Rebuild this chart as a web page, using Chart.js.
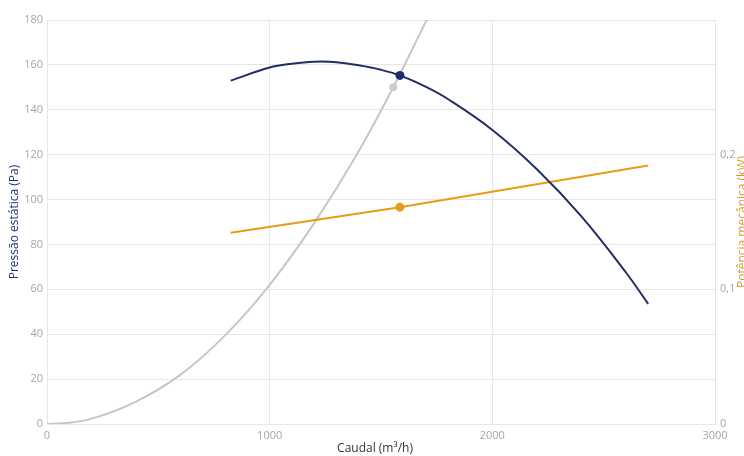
<!DOCTYPE html>
<html>
<head>
<meta charset="utf-8">
<script src="https://cdn.jsdelivr.net/npm/chart.js@4/dist/chart.umd.min.js"></script>
<style>
  html, body { margin: 0; padding: 0; background: #fff; }
  #wrap { width: 744px; height: 456px; }
</style>
</head>
<body>
<div id="wrap"><canvas id="c" width="744" height="456"></canvas></div>
<script>
// Fan curve (static pressure, Pa) against airflow (m³/h)
const fanFlow = [825, 1000, 1100, 1200, 1300, 1400, 1500, 1585, 1700, 1800, 2000, 2200, 2400, 2600, 2700];
const fanPressure = [153, 158.8, 160.5, 161.4, 161.2, 159.8, 157.8, 155.3, 150.3, 144.8, 131, 113.5, 92.5, 67.5, 53.5];

// System resistance curve (Pa)
const systemFlow = [0, 100, 200, 400, 600, 800, 1000, 1200, 1400, 1555, 1720];
const systemPressure = [0, 0.6, 2.4, 10, 22, 39.5, 62, 89.5, 121.5, 150, 183];

// Shaft power (kW)
const powerFlow = [825, 1585, 2700];
const powerKw = [0.142, 0.161, 0.192];

// Operating points
const opFan = { flow: 1585, value: 155.3 };
const opSystem = { flow: 1555, value: 150 };
const opPower = { flow: 1585, value: 0.161 };

// Axis ticks
const flowTicks = [0, 1000, 2000, 3000];
const pressureTicks = [0, 20, 40, 60, 80, 100, 120, 140, 160, 180];
const powerTicks = [0, 0.1, 0.2, 0.3];

// Axis titles
const titleX = 'Caudal (m³/h)';
const titleLeft = 'Pressão estática (Pa)';
const titleRight = 'Potência mecânica (kW)';

const NAVY = '#232d63';
const NAVY_DOT = '#1c2a70';
const GREY = '#c6c6c6';
const ORANGE = '#e79b16';
const GRID = '#e6e6e6';
const TICK = '#a6a6a6';
const FONT = '"Open Sans", "Liberation Sans", sans-serif';

const toXY = (xs, ys) => xs.map((x, i) => ({ x: x, y: ys[i] }));

const axisTitles = {
  id: 'axisTitles',
  afterDraw(chart) {
    const ctx = chart.ctx;
    const area = chart.chartArea;
    const midY = (area.top + area.bottom) / 2;
    ctx.save();
    ctx.font = '12px ' + FONT;
    ctx.textAlign = 'center';
    ctx.textBaseline = 'middle';

    ctx.fillStyle = '#333333';
    ctx.fillText(titleX, 375, 449);

    ctx.save();
    ctx.translate(15, midY);
    ctx.rotate(-Math.PI / 2);
    ctx.fillStyle = '#26337a';
    ctx.fillText(titleLeft, 0, 0);
    ctx.restore();

    ctx.save();
    ctx.translate(743, midY);
    ctx.rotate(-Math.PI / 2);
    ctx.fillStyle = '#d9a030';
    ctx.fillText(titleRight, 0, 0);
    ctx.restore();

    ctx.restore();
  }
};

new Chart(document.getElementById('c'), {
  type: 'scatter',
  data: {
    datasets: [
      {
        label: 'Sistema',
        data: toXY(systemFlow, systemPressure),
        showLine: true,
        borderColor: GREY,
        borderWidth: 2,
        pointRadius: 0,
        cubicInterpolationMode: 'monotone',
        yAxisID: 'y',
        order: 3
      },
      {
        label: 'Potência',
        data: toXY(powerFlow, powerKw),
        showLine: true,
        borderColor: ORANGE,
        borderWidth: 2,
        pointRadius: 0,
        tension: 0,
        yAxisID: 'y2',
        order: 2
      },
      {
        label: 'Pressão',
        data: toXY(fanFlow, fanPressure),
        showLine: true,
        borderColor: NAVY,
        borderWidth: 2,
        pointRadius: 0,
        tension: 0.4,
        yAxisID: 'y',
        order: 1
      },
      {
        data: [{ x: opSystem.flow, y: opSystem.value }],
        pointRadius: 4,
        pointBackgroundColor: '#cdcdcd',
        pointBorderWidth: 0,
        yAxisID: 'y',
        order: 0
      },
      {
        data: [{ x: opPower.flow, y: opPower.value }],
        pointRadius: 4.5,
        pointBackgroundColor: ORANGE,
        pointBorderWidth: 0,
        yAxisID: 'y2',
        order: 0
      },
      {
        data: [{ x: opFan.flow, y: opFan.value }],
        pointRadius: 4.5,
        pointBackgroundColor: NAVY_DOT,
        pointBorderWidth: 0,
        yAxisID: 'y',
        order: 0
      }
    ]
  },
  options: {
    responsive: false,
    animation: false,
    events: [],
    layout: { padding: { top: 20, left: 0, right: 0, bottom: 0 } },
    plugins: {
      legend: { display: false },
      tooltip: { enabled: false }
    },
    scales: {
      x: {
        type: 'linear',
        min: flowTicks[0],
        max: flowTicks[flowTicks.length - 1],
        afterBuildTicks: (s) => { s.ticks = flowTicks.map(v => ({ value: v })); },
        afterFit: (s) => { s.height = 32; },
        grid: { color: GRID, lineWidth: 1, drawTicks: false },
        border: { color: GRID },
        ticks: {
          color: TICK,
          font: { family: FONT, size: 11 },
          padding: 5,
          maxRotation: 0,
          callback: (v) => String(v)
        }
      },
      y: {
        type: 'linear',
        position: 'left',
        min: pressureTicks[0],
        max: pressureTicks[pressureTicks.length - 1],
        afterBuildTicks: (s) => { s.ticks = pressureTicks.map(v => ({ value: v })); },
        afterFit: (s) => { s.width = 47; },
        grid: { color: GRID, lineWidth: 1, drawTicks: false },
        border: { color: GRID },
        ticks: {
          color: TICK,
          font: { family: FONT, size: 11 },
          padding: 4,
          callback: (v) => String(v)
        }
      },
      y2: {
        type: 'linear',
        position: 'right',
        min: powerTicks[0],
        max: powerTicks[powerTicks.length - 1],
        afterBuildTicks: (s) => { s.ticks = powerTicks.slice(0, -1).map(v => ({ value: v })); },
        afterFit: (s) => { s.width = 29; },
        grid: { drawOnChartArea: false, drawTicks: false },
        border: { color: GRID },
        ticks: {
          color: TICK,
          font: { family: FONT, size: 11 },
          padding: 5,
          callback: (v) => (v === 0 ? '0' : v.toFixed(1).replace('.', ','))
        }
      }
    }
  },
  plugins: [axisTitles]
});
</script>
</body>
</html>
